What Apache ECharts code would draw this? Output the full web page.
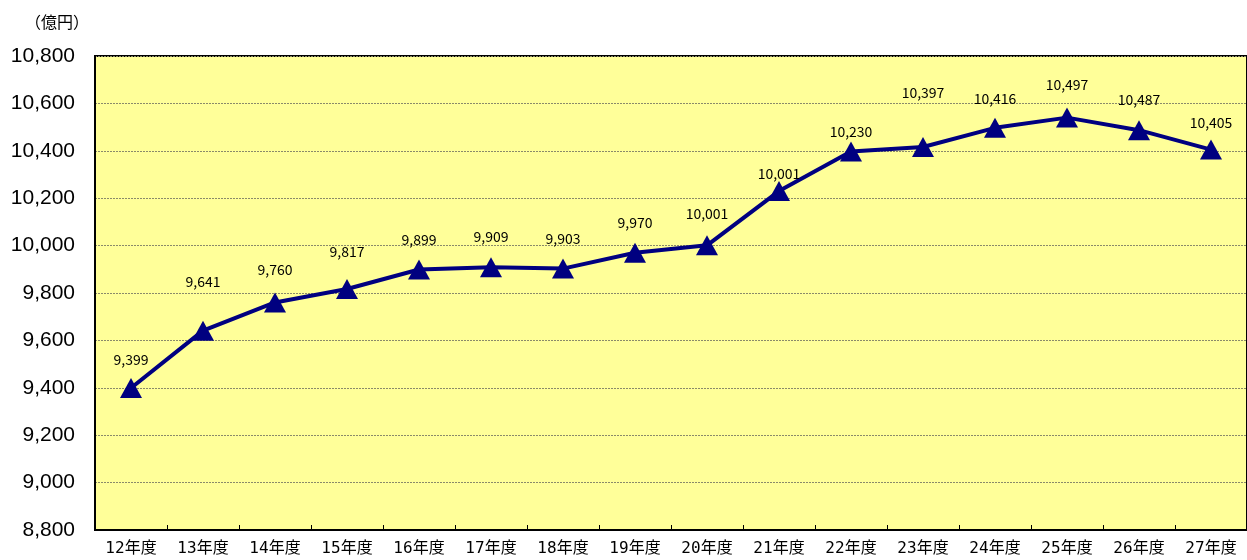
<!DOCTYPE html>
<html>
<head>
<meta charset="utf-8">
<script src="https://cdn.jsdelivr.net/npm/echarts@6/dist/echarts.min.js"></script>
<style>
  html, body { margin: 0; padding: 0; background: #fff; }
  #main { width: 1247px; height: 560px; }
</style>
</head>
<body>
<div id="main"></div>
<script>
// 年度
const years = ['12年度', '13年度', '14年度', '15年度', '16年度', '17年度', '18年度', '19年度',
  '20年度', '21年度', '22年度', '23年度', '24年度', '25年度', '26年度', '27年度'];
// 点の位置（億円）
const values = [9399, 9641, 9760, 9817, 9899, 9909, 9903, 9970,
  10001, 10230, 10397, 10416, 10497, 10540, 10487, 10405];
// 表示されているラベル
const labelValues = [9399, 9641, 9760, 9817, 9899, 9909, 9903, 9970,
  10001, 10001, 10230, 10397, 10416, 10497, 10487, 10405];
// ラベルの上下ずれ
const labelShift = [2, -19, -3, -7, 0, 0, 0, 0, -2, 13, 10, -24, 1, -3, 0, 3];

let myChart = echarts.init(document.getElementById('main'));

let option = {
  animation: false,
  backgroundColor: '#ffffff',
  title: {
    text: '（億円）',
    left: 20,
    top: 9,
    textStyle: { fontSize: 16, fontWeight: 'normal', color: '#000', fontFamily: 'Noto Sans CJK JP' }
  },
  grid: {
    left: 95, right: -3, top: 56, bottom: 30,
    show: true,
    backgroundColor: '#FFFF99',
    borderColor: '#000',
    borderWidth: 2
  },
  xAxis: {
    type: 'category',
    data: years,
    boundaryGap: true,
    axisLine: { lineStyle: { color: '#000', width: 2 } },
    axisTick: { show: true, inside: true, length: 5, lineStyle: { color: '#000' } },
    axisLabel: {
      color: '#000', fontSize: 16, margin: 11,
      fontFamily: '"DejaVu Sans Mono", "Noto Sans CJK JP"'
    }
  },
  yAxis: {
    type: 'value',
    min: 8800,
    max: 10800,
    interval: 200,
    axisLine: { show: true, lineStyle: { color: '#000', width: 2 } },
    axisTick: { show: false },
    axisLabel: {
      color: '#000', fontSize: 21, margin: 20, fontFamily: 'Liberation Sans',
      formatter: v => v.toLocaleString('en-US')
    },
    splitLine: { lineStyle: { color: '#8a8a6a', width: 1, type: [2, 1] } }
  },
  series: [
    {
      type: 'line',
      data: values.map((v, i) => ({
        value: v,
        label: { offset: [0, labelShift[i]] }
      })),
      symbol: 'triangle',
      symbolSize: [22, 20],
      itemStyle: { color: '#000080' },
      lineStyle: { color: '#000080', width: 4 },
      label: {
        show: true,
        position: 'top',
        distance: 13,
        color: '#000',
        fontSize: 14,
        fontFamily: 'Noto Sans CJK JP',
        formatter: p => labelValues[p.dataIndex].toLocaleString('en-US')
      }
    }
  ]
};

myChart.setOption(option);
</script>
</body>
</html>
